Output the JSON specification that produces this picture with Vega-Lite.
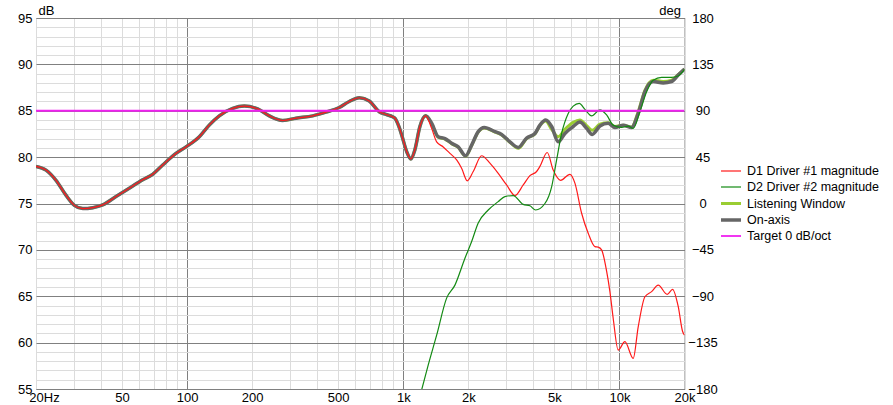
{
  "$schema": "https://vega.github.io/schema/vega-lite/v6.json",
  "autosize": "none",
  "width": 648.5,
  "height": 371,
  "padding": {"left": 36, "top": 18, "right": 208.5, "bottom": 16},
  "background": "white",
  "config": {
    "view": {"stroke": "#808080", "strokeWidth": 1},
    "font": "Liberation Sans"
  },
  "title": {"text": "SPL", "fontSize": 13, "fontWeight": "normal", "color": "#000", "offset": 3, "baseline": "alphabetic", "anchor": "middle", "font": "Liberation Sans"},
  "datasets": {
    "d1": [
      {"f": 20, "db": 79.0}, {"f": 22.25, "db": 78.6}, {"f": 24.75, "db": 77.5}, {"f": 27.5, "db": 75.9},
      {"f": 30.1, "db": 74.8}, {"f": 32.9, "db": 74.45}, {"f": 36.6, "db": 74.55}, {"f": 40.7, "db": 74.85},
      {"f": 46.9, "db": 75.75}, {"f": 54.0, "db": 76.65}, {"f": 62.3, "db": 77.55}, {"f": 69.3, "db": 78.15},
      {"f": 77.1, "db": 79.15}, {"f": 88.8, "db": 80.4}, {"f": 98.8, "db": 81.1}, {"f": 113.9, "db": 82.2},
      {"f": 126.6, "db": 83.45}, {"f": 140.9, "db": 84.45}, {"f": 162.5, "db": 85.25}, {"f": 183.9, "db": 85.5},
      {"f": 212.1, "db": 85.2}, {"f": 239.9, "db": 84.45}, {"f": 276.8, "db": 83.95}, {"f": 318.9, "db": 84.2},
      {"f": 381, "db": 84.45}, {"f": 438.9, "db": 84.85}, {"f": 505.7, "db": 85.35}, {"f": 562.6, "db": 86.0},
      {"f": 625.6, "db": 86.4}, {"f": 696, "db": 86.05}, {"f": 774, "db": 84.9}, {"f": 832, "db": 84.6},
      {"f": 893, "db": 84.35}, {"f": 915, "db": 84.2}, {"f": 958, "db": 83.2}, {"f": 983, "db": 82.4},
      {"f": 1037, "db": 80.6}, {"f": 1085, "db": 79.8}, {"f": 1132, "db": 80.8}, {"f": 1194, "db": 83.3},
      {"f": 1269, "db": 84.45}, {"f": 1353, "db": 83.1}, {"f": 1427, "db": 81.65}, {"f": 1531, "db": 81.1},
      {"f": 1644, "db": 80.4}, {"f": 1766, "db": 79.7}, {"f": 1862, "db": 78.8}, {"f": 1977, "db": 77.45},
      {"f": 2107, "db": 78.45}, {"f": 2304, "db": 80.15}, {"f": 2517, "db": 79.35}, {"f": 2750, "db": 78.25},
      {"f": 3007, "db": 77.0}, {"f": 3286, "db": 75.85}, {"f": 3589, "db": 77.0}, {"f": 3854, "db": 78.0},
      {"f": 4139, "db": 78.45}, {"f": 4288, "db": 79.0}, {"f": 4634, "db": 80.5}, {"f": 4940, "db": 78.6},
      {"f": 5345, "db": 77.5}, {"f": 5901, "db": 78.15}, {"f": 6224, "db": 77.2}, {"f": 6685, "db": 73.95},
      {"f": 7171, "db": 71.8}, {"f": 7702, "db": 70.35}, {"f": 7977, "db": 70.3}, {"f": 8272, "db": 70.0},
      {"f": 8724, "db": 67.7}, {"f": 9036, "db": 65.5}, {"f": 9360, "db": 62.6}, {"f": 9869, "db": 59.2},
      {"f": 10601, "db": 60.1}, {"f": 11581, "db": 58.3}, {"f": 12215, "db": 61.7}, {"f": 13119, "db": 64.95},
      {"f": 14088, "db": 65.5}, {"f": 15118, "db": 66.2}, {"f": 16634, "db": 65.2}, {"f": 17618, "db": 65.75},
      {"f": 18703, "db": 63.9}, {"f": 19599, "db": 61.2}, {"f": 20000, "db": 60.8}
    ],
    "d2": [
      {"f": 1150, "db": 52.8}, {"f": 1216, "db": 54.9}, {"f": 1305, "db": 57.6}, {"f": 1427, "db": 60.8},
      {"f": 1587, "db": 64.8}, {"f": 1734, "db": 66.2}, {"f": 1929, "db": 69.1}, {"f": 2072, "db": 70.9},
      {"f": 2222, "db": 72.9}, {"f": 2472, "db": 74.3}, {"f": 2750, "db": 75.2}, {"f": 2953, "db": 75.75},
      {"f": 3226, "db": 75.85}, {"f": 3589, "db": 74.9}, {"f": 3854, "db": 74.75}, {"f": 4096, "db": 74.3},
      {"f": 4522, "db": 75.0}, {"f": 4857, "db": 76.8}, {"f": 5122, "db": 79.7}, {"f": 5403, "db": 82.55},
      {"f": 5795, "db": 84.7}, {"f": 6113, "db": 85.5}, {"f": 6516, "db": 85.8}, {"f": 6923, "db": 85.15},
      {"f": 7436, "db": 84.45}, {"f": 8123, "db": 85.1}, {"f": 8724, "db": 84.55}, {"f": 9360, "db": 83.45},
      {"f": 10235, "db": 83.2}, {"f": 10980, "db": 83.35}, {"f": 11581, "db": 83.1}, {"f": 12439, "db": 84.9},
      {"f": 13359, "db": 87.05}, {"f": 14331, "db": 88.3}, {"f": 15676, "db": 88.6}, {"f": 17431, "db": 88.6},
      {"f": 18703, "db": 88.75}, {"f": 20000, "db": 89.45}
    ],
    "oa": [
      {"f": 20, "db": 79.0}, {"f": 22.25, "db": 78.6}, {"f": 24.75, "db": 77.5}, {"f": 27.5, "db": 75.9},
      {"f": 30.1, "db": 74.8}, {"f": 32.9, "db": 74.45}, {"f": 36.6, "db": 74.55}, {"f": 40.7, "db": 74.85},
      {"f": 46.9, "db": 75.75}, {"f": 54.0, "db": 76.65}, {"f": 62.3, "db": 77.55}, {"f": 69.3, "db": 78.15},
      {"f": 77.1, "db": 79.15}, {"f": 88.8, "db": 80.4}, {"f": 98.8, "db": 81.1}, {"f": 113.9, "db": 82.2},
      {"f": 126.6, "db": 83.45}, {"f": 140.9, "db": 84.45}, {"f": 162.5, "db": 85.25}, {"f": 183.9, "db": 85.5},
      {"f": 212.1, "db": 85.2}, {"f": 239.9, "db": 84.45}, {"f": 276.8, "db": 83.95}, {"f": 318.9, "db": 84.2},
      {"f": 381, "db": 84.45}, {"f": 438.9, "db": 84.85}, {"f": 505.7, "db": 85.35}, {"f": 562.6, "db": 86.0},
      {"f": 625.6, "db": 86.4}, {"f": 696, "db": 86.05}, {"f": 774, "db": 84.9}, {"f": 832, "db": 84.6},
      {"f": 893, "db": 84.35}, {"f": 915, "db": 84.2}, {"f": 958, "db": 83.2}, {"f": 983, "db": 82.4},
      {"f": 1037, "db": 80.6}, {"f": 1085, "db": 79.8}, {"f": 1132, "db": 80.8}, {"f": 1194, "db": 83.3},
      {"f": 1269, "db": 84.45}, {"f": 1353, "db": 83.65}, {"f": 1451, "db": 82.2}, {"f": 1559, "db": 82.0},
      {"f": 1674, "db": 81.5}, {"f": 1796, "db": 81.1}, {"f": 1943, "db": 80.15}, {"f": 2072, "db": 81.3},
      {"f": 2222, "db": 82.75}, {"f": 2369, "db": 83.2}, {"f": 2655, "db": 82.75}, {"f": 2851, "db": 82.45},
      {"f": 3115, "db": 81.65}, {"f": 3403, "db": 81.05}, {"f": 3721, "db": 82.05}, {"f": 4065, "db": 82.55},
      {"f": 4288, "db": 83.45}, {"f": 4560, "db": 84.0}, {"f": 4857, "db": 83.3}, {"f": 5210, "db": 81.65},
      {"f": 5596, "db": 82.55}, {"f": 6113, "db": 83.3}, {"f": 6565, "db": 83.8}, {"f": 7050, "db": 83.1},
      {"f": 7484, "db": 82.45}, {"f": 8123, "db": 83.35}, {"f": 8875, "db": 83.65}, {"f": 9531, "db": 83.2},
      {"f": 10411, "db": 83.45}, {"f": 11385, "db": 83.2}, {"f": 12215, "db": 84.7}, {"f": 13119, "db": 87.05},
      {"f": 14331, "db": 88.15}, {"f": 15941, "db": 88.0}, {"f": 17431, "db": 88.15}, {"f": 18703, "db": 88.85},
      {"f": 20000, "db": 89.5}
    ],
    "lw": [
      {"f": 20, "db": 79.0}, {"f": 22.25, "db": 78.6}, {"f": 24.75, "db": 77.5}, {"f": 27.5, "db": 75.9},
      {"f": 30.1, "db": 74.8}, {"f": 32.9, "db": 74.45}, {"f": 36.6, "db": 74.55}, {"f": 40.7, "db": 74.85},
      {"f": 46.9, "db": 75.75}, {"f": 54.0, "db": 76.65}, {"f": 62.3, "db": 77.55}, {"f": 69.3, "db": 78.15},
      {"f": 77.1, "db": 79.15}, {"f": 88.8, "db": 80.4}, {"f": 98.8, "db": 81.1}, {"f": 113.9, "db": 82.2},
      {"f": 126.6, "db": 83.45}, {"f": 140.9, "db": 84.45}, {"f": 162.5, "db": 85.25}, {"f": 183.9, "db": 85.5},
      {"f": 212.1, "db": 85.2}, {"f": 239.9, "db": 84.45}, {"f": 276.8, "db": 83.95}, {"f": 318.9, "db": 84.2},
      {"f": 381, "db": 84.45}, {"f": 438.9, "db": 84.85}, {"f": 505.7, "db": 85.35}, {"f": 562.6, "db": 86.0},
      {"f": 625.6, "db": 86.4}, {"f": 696, "db": 86.05}, {"f": 774, "db": 84.9}, {"f": 832, "db": 84.6},
      {"f": 893, "db": 84.35}, {"f": 915, "db": 84.2}, {"f": 958, "db": 83.2}, {"f": 983, "db": 82.4},
      {"f": 1037, "db": 80.6}, {"f": 1085, "db": 79.8}, {"f": 1132, "db": 80.8}, {"f": 1194, "db": 83.3},
      {"f": 1269, "db": 84.45}, {"f": 1353, "db": 83.6}, {"f": 1451, "db": 82.15}, {"f": 1559, "db": 81.95},
      {"f": 1674, "db": 81.45}, {"f": 1796, "db": 81.05}, {"f": 1943, "db": 80.1}, {"f": 2072, "db": 81.25},
      {"f": 2222, "db": 82.7}, {"f": 2369, "db": 83.15}, {"f": 2655, "db": 82.7}, {"f": 2851, "db": 82.4},
      {"f": 3115, "db": 81.6}, {"f": 3403, "db": 80.95}, {"f": 3721, "db": 82.0}, {"f": 4065, "db": 82.5},
      {"f": 4288, "db": 83.4}, {"f": 4560, "db": 83.9}, {"f": 4857, "db": 83.0}, {"f": 5210, "db": 82.2},
      {"f": 5596, "db": 83.0}, {"f": 6113, "db": 83.75}, {"f": 6565, "db": 84.0}, {"f": 7050, "db": 83.4},
      {"f": 7484, "db": 82.9}, {"f": 8123, "db": 83.55}, {"f": 8875, "db": 83.7}, {"f": 9531, "db": 83.3},
      {"f": 10411, "db": 83.45}, {"f": 11385, "db": 83.25}, {"f": 12215, "db": 84.9}, {"f": 13119, "db": 87.2},
      {"f": 14331, "db": 88.3}, {"f": 15941, "db": 88.15}, {"f": 17431, "db": 88.3}, {"f": 18703, "db": 88.9},
      {"f": 20000, "db": 89.5}
    ],
    "tg": [{"f": 20, "db": 85}, {"f": 20000, "db": 85}],
    "ph": [{"deg": -180}, {"deg": 180}]
  },
  "layer": [
    {
      "encoding": {
        "x": {
          "field": "f", "type": "quantitative",
          "scale": {"type": "log", "domain": [20, 20000], "nice": false},
          "axis": {
            "values": [20, 30, 40, 50, 60, 70, 80, 90, 100, 200, 300, 400, 500, 600, 700, 800, 900, 1000, 2000, 3000, 4000, 5000, 6000, 7000, 8000, 9000, 10000, 20000],
            "labelExpr": "datum.value == 20 ? '20Hz' : (indexof([50, 100, 200, 500], datum.value) >= 0 ? toString(datum.value) : (indexof([1000, 2000, 5000, 10000, 20000], datum.value) >= 0 ? toString(datum.value / 1000) + 'k' : ''))",
            "labelOffset": {"condition": {"test": "datum.value == 20", "value": 8}, "value": 0},
            "gridColor": {"condition": {"test": "indexof([100, 1000, 10000], datum.value) >= 0", "value": "#808080"}, "value": "#dcdcdc"},
            "grid": true, "ticks": false, "domain": false,
            "labelPadding": 2, "labelFontSize": 13, "labelColor": "#000", "labelFont": "Liberation Sans",
            "labelOverlap": false, "labelFlush": false, "title": null
          }
        },
        "y": {
          "field": "db", "type": "quantitative",
          "scale": {"domain": [55, 95], "nice": false, "zero": false},
          "axis": {
            "values": [55, 56, 57, 58, 59, 60, 61, 62, 63, 64, 65, 66, 67, 68, 69, 70, 71, 72, 73, 74, 75, 76, 77, 78, 79, 80, 81, 82, 83, 84, 85, 86, 87, 88, 89, 90, 91, 92, 93, 94, 95],
            "labelExpr": "datum.value % 5 == 0 ? datum.label : ''",
            "gridColor": {"condition": {"test": "datum.value % 5 == 0", "value": "#808080"}, "value": "#dcdcdc"},
            "grid": true, "ticks": false, "domain": false,
            "labelPadding": 4, "labelFontSize": 13, "labelColor": "#000", "labelFont": "Liberation Sans",
            "labelOverlap": false, "labelFlush": false,
            "title": "dB", "titleAngle": 0, "titleAlign": "left", "titleBaseline": "alphabetic",
            "titleX": 2, "titleY": -4, "titleFontWeight": "normal", "titleFontSize": 13, "titleColor": "#000", "titleFont": "Liberation Sans"
          }
        },
        "color": {
          "type": "nominal",
          "scale": {
            "domain": ["D1 Driver #1 magnitude", "D2 Driver #2 magnitude", "Listening Window", "On-axis", "Target 0 dB/oct"],
            "range": ["#ff1a1a", "#138a13", "#9acd32", "#666666", "#f020f0"]
          },
          "legend": {
            "orient": "none", "legendX": 685, "legendY": 144, "title": null, "padding": 0,
            "symbolType": "M-1.25,0H1.25", "symbolSize": 256, "labelFontSize": 12.5, "labelFont": "Liberation Sans",
            "labelColor": "#000", "labelOffset": 6, "rowPadding": 0
          }
        },
        "strokeWidth": {
          "type": "nominal",
          "scale": {
            "type": "ordinal",
            "domain": ["D1 Driver #1 magnitude", "D2 Driver #2 magnitude", "Listening Window", "On-axis", "Target 0 dB/oct"],
            "range": [1.2, 1.2, 3, 3.5, 1.8]
          },
          "legend": null
        }
      },
      "layer": [
        {"data": {"name": "lw"}, "mark": {"type": "line", "interpolate": "monotone", "clip": true},
         "encoding": {"color": {"datum": "Listening Window"}, "strokeWidth": {"datum": "Listening Window"}}},
        {"data": {"name": "oa"}, "mark": {"type": "line", "interpolate": "monotone", "clip": true},
         "encoding": {"color": {"datum": "On-axis"}, "strokeWidth": {"datum": "On-axis"}}},
        {"data": {"name": "d1"}, "mark": {"type": "line", "interpolate": "monotone", "clip": true},
         "encoding": {"color": {"datum": "D1 Driver #1 magnitude"}, "strokeWidth": {"datum": "D1 Driver #1 magnitude"}}},
        {"data": {"name": "d2"}, "mark": {"type": "line", "interpolate": "monotone", "clip": true},
         "encoding": {"color": {"datum": "D2 Driver #2 magnitude"}, "strokeWidth": {"datum": "D2 Driver #2 magnitude"}}},
        {"data": {"name": "tg"}, "mark": {"type": "line", "clip": true},
         "encoding": {"color": {"datum": "Target 0 dB/oct"}, "strokeWidth": {"datum": "Target 0 dB/oct"}}}
      ]
    },
    {
      "data": {"name": "ph"},
      "mark": {"type": "point", "opacity": 0, "size": 1},
      "encoding": {
        "y": {
          "field": "deg", "type": "quantitative",
          "scale": {"domain": [-180, 180], "nice": false, "zero": false},
          "axis": {
            "orient": "right",
            "values": [-180, -135, -90, -45, 0, 45, 90, 135, 180],
            "grid": false, "ticks": false, "domain": false,
            "labelAlign": "center", "labelPadding": 18, "labelFontSize": 13, "labelColor": "#000", "labelFont": "Liberation Sans",
            "labelOverlap": false, "labelFlush": false,
            "title": "deg", "titleAngle": 0, "titleAlign": "right", "titleBaseline": "alphabetic",
            "titleX": -4, "titleY": -4, "titleFontWeight": "normal", "titleFontSize": 13, "titleColor": "#000", "titleFont": "Liberation Sans"
          }
        }
      }
    }
  ],
  "resolve": {"scale": {"y": "independent"}}
}
